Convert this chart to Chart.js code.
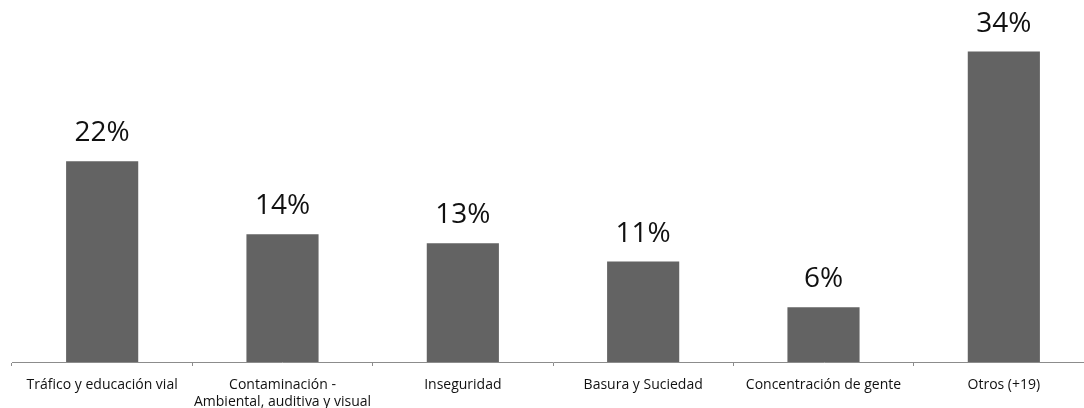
<!DOCTYPE html>
<html>
<head>
<meta charset="utf-8">
<script src="https://cdn.jsdelivr.net/npm/chart.js@4"></script>
<style>
  html, body { margin: 0; padding: 0; background: #ffffff; overflow: hidden; }
  #wrap { position: relative; width: 1110px; height: 408px; }
</style>
</head>
<body>
<div id="wrap"><canvas id="chart"></canvas></div>
<script>
// Problemas del barrio (% de menciones)
const categories = [
  'Tráfico y educación vial',
  ['Contaminación -', 'Ambiental, auditiva y visual'],
  'Inseguridad',
  'Basura y Suciedad',
  'Concentración de gente',
  'Otros (+19)'
];
const percentages = [22, 14, 13, 11, 6, 34];

const FONT = '"Open Sans", "DejaVu Sans", sans-serif';

// Draws the percentage above each bar
const valueLabels = {
  id: 'valueLabels',
  afterDatasetsDraw(chart) {
    const { ctx } = chart;
    const meta = chart.getDatasetMeta(0);
    ctx.save();
    ctx.font = '28px ' + FONT;
    ctx.fillStyle = '#111111';
    ctx.textAlign = 'center';
    ctx.textBaseline = 'alphabetic';
    meta.data.forEach((bar, i) => {
      ctx.fillText(percentages[i] + '%', bar.x, bar.y - 20);
    });
    ctx.restore();
  }
};

new Chart(document.getElementById('chart'), {
  type: 'bar',
  data: {
    labels: categories,
    datasets: [{
      data: percentages,
      backgroundColor: '#636363',
      borderWidth: 0,
      categoryPercentage: 0.4,
      barPercentage: 1.0
    }]
  },
  options: {
    responsive: true,
    maintainAspectRatio: false,
    animation: false,
    layout: { padding: { left: 12, right: 16, top: 0, bottom: 0 } },
    plugins: {
      legend: { display: false },
      tooltip: { enabled: false }
    },
    scales: {
      x: {
        offset: true,
        afterFit(scale) { scale.height = 46; },
        border: { display: true, color: '#8c8c8c', width: 1 },
        grid: {
          display: true,
          offset: true,
          drawOnChartArea: false,
          drawTicks: true,
          tickLength: 4,
          color: '#8c8c8c'
        },
        ticks: {
          autoSkip: false,
          maxRotation: 0,
          minRotation: 0,
          padding: 11,
          color: '#111111',
          font: { family: FONT, size: 14, lineHeight: 1.2 }
        }
      },
      y: {
        display: false,
        min: 0,
        max: 39.65
      }
    }
  },
  plugins: [valueLabels]
});
</script>
</body>
</html>
